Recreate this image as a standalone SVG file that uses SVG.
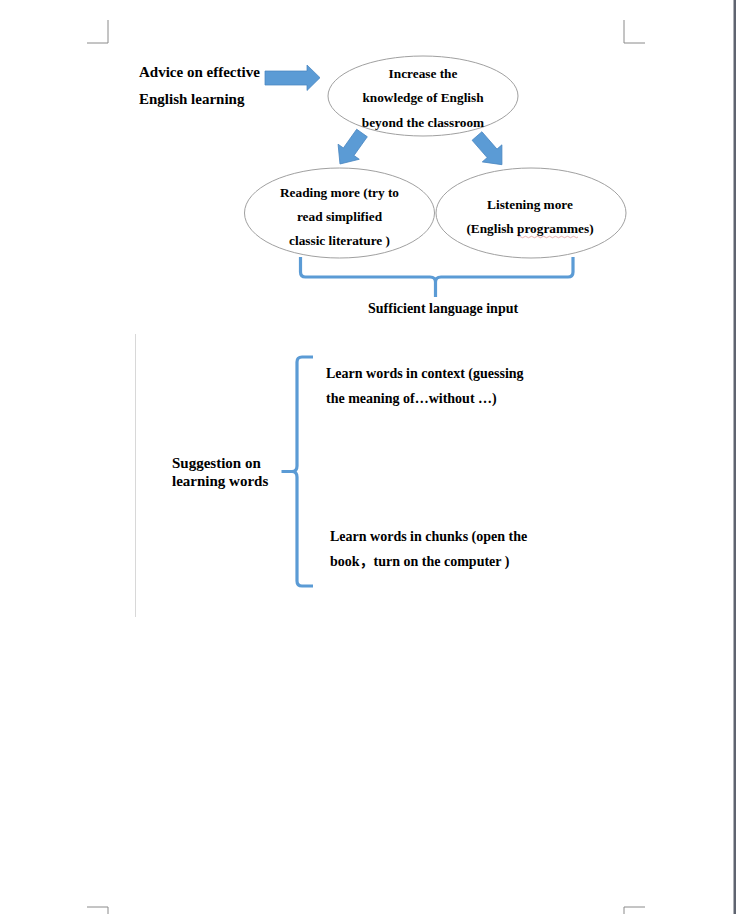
<svg xmlns="http://www.w3.org/2000/svg" width="736" height="914" viewBox="0 0 736 914">
<style>
text{font-family:"Liberation Serif","Noto Sans CJK SC",serif;font-weight:bold;fill:#000}
.s13{font-size:13.3px}
.s14{font-size:14px}
.s15{font-size:15px}
.ell{fill:none;stroke:#a0a0a0;stroke-width:1}
.arr{fill:#5b9bd5;stroke:#4a86c0;stroke-width:0.75}
.brace{fill:none;stroke:#5b9bd5;stroke-width:3.2;stroke-linecap:butt;stroke-linejoin:round}
.mark{fill:none;stroke:#8a8a8a;stroke-width:1}
</style>
<defs>
<path id="arrowShape" d="M0,-6.5 L23,-6.5 L23,-13 L38,0 L23,13 L23,6.5 L0,6.5 Z"/>
</defs>
<rect width="736" height="914" fill="#fff"/>
<g id="page-marks">
<path class="mark" d="M87,43 H108 V20 M645,43 H624 V20 M87,907 H108 V914 M645,907 H624 V914"/>
<line x1="135.5" y1="334" x2="135.5" y2="617" stroke="#d8d8d8" stroke-width="1"/>
<rect x="733.5" y="0" width="2.5" height="914" fill="#5f6470"/>
</g>
<g id="connectors">
<path class="arr" d="M265,71 H307 V65 L320,77.7 L307,90.5 V85 H265 Z"/>
<use href="#arrowShape" class="arr" transform="translate(362,133) rotate(125.4)"/>
<use href="#arrowShape" class="arr" transform="translate(477,136) rotate(49)"/>
<path class="brace" d="M300.5,257 V272 Q300.5,277 305.5,277 H430 Q435.5,277 435.5,282 V297 M435.5,282 Q435.5,277 441,277 H568 Q573,277 573,272 V257"/>
<path class="brace" d="M313,357 H302 Q297,357 297,362 V466 Q297,471.5 292,471.5 H281.5 M292,471.5 Q297,471.5 297,477 V581 Q297,586 302,586 H313"/>
</g>
<g id="node-advice">
<text class="s15" x="139" y="77">Advice on effective</text>
<text class="s15" x="139" y="104">English learning</text>
</g>
<g id="node-increase">
<ellipse class="ell" cx="423" cy="96" rx="95" ry="40"/>
<text class="s13" x="423" y="78" text-anchor="middle">Increase the</text>
<text class="s13" x="423" y="102" text-anchor="middle">knowledge of English</text>
<text class="s13" x="423" y="127" text-anchor="middle">beyond the classroom</text>
</g>
<g id="node-reading">
<ellipse class="ell" cx="339.5" cy="213" rx="95" ry="45"/>
<text class="s13" x="339.5" y="197" text-anchor="middle">Reading more (try to</text>
<text class="s13" x="339.5" y="221" text-anchor="middle">read simplified</text>
<text class="s13" x="339.5" y="245" text-anchor="middle">classic literature )</text>
</g>
<g id="node-listening">
<ellipse class="ell" cx="531" cy="213" rx="95" ry="45"/>
<text class="s13" x="530" y="209" text-anchor="middle">Listening more</text>
<text class="s13" x="530" y="233" text-anchor="middle">(English programmes)</text>
<path d="M518,237 q1.5,-1.5 3,0 t3,0 t3,0 t3,0 t3,0 t3,0 t3,0 t3,0 t3,0 t3,0 t3,0 t3,0 t3,0 t3,0 t3,0 t3,0 t3,0 t3,0 t3,0 t3,0" fill="none" stroke="#d06060" stroke-width="0.7" opacity="0.7"/>
</g>
<g id="node-sufficient">
<text class="s14" x="368" y="313">Sufficient language input</text>
</g>
<g id="node-suggestion">
<text class="s15" x="172" y="468">Suggestion on</text>
<text class="s15" x="172" y="486">learning words</text>
</g>
<g id="node-context">
<text class="s14" x="326" y="378">Learn words in context (guessing</text>
<text class="s14" x="326" y="403">the meaning of…without …)</text>
</g>
<g id="node-chunks">
<text class="s14" x="330" y="541">Learn words in chunks (open the</text>
<text class="s14" x="330" y="566">book，turn on the computer )</text>
</g>
</svg>
